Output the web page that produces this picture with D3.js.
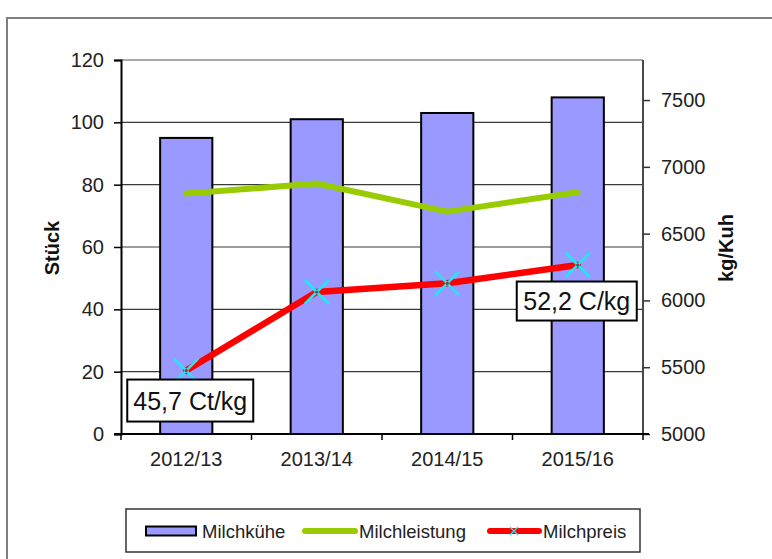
<!DOCTYPE html>
<html>
<head>
<meta charset="utf-8">
<script src="https://cdn.jsdelivr.net/npm/d3@7"></script>
<style>
  html, body { margin: 0; padding: 0; background: #fff; }
  svg { display: block; font-family: "Liberation Sans", Arial, sans-serif; }
</style>
</head>
<body>
<svg id="chart" width="772" height="559"></svg>
<script>
// ---- data ----
const categories = ["2012/13", "2013/14", "2014/15", "2015/16"];
const milchkuehe = [95, 101, 103, 108];            // Stück (left axis)
const milchleistung = [6800, 6875, 6665, 6810];    // kg/Kuh (right axis)
const milchpreis = [5475, 6063, 6128, 6265];       // price line as plotted on right axis
const leftTicks = [0, 20, 40, 60, 80, 100, 120];
const rightTicks = [5000, 5500, 6000, 6500, 7000, 7500];
const priceLabels = ["45,7 Ct/kg", "52,2 C/kg"];
const seriesNames = ["Milchkühe", "Milchleistung", "Milchpreis"];

const svg = d3.select("#chart");
const L = 121, R = 643, T = 60, B = 434;

const x = d3.scaleBand().domain(categories).range([L, R]).padding(0);
const yL = d3.scaleLinear().domain([0, 120]).range([B, T]);
const yR = d3.scaleLinear().domain([5000, 7800]).range([B, T]);
const cx = d => x(d) + x.bandwidth() / 2;

// outer frame
svg.append("rect").attr("x", 7).attr("y", 18).attr("width", 820).attr("height", 620)
  .attr("fill", "none").attr("stroke", "#7f7f7f").attr("stroke-width", 2);

// gridlines
svg.append("g").selectAll("line").data(leftTicks.filter(t => t > 0 && t < 120)).join("line")
  .attr("x1", L).attr("x2", R).attr("y1", d => yL(d)).attr("y2", d => yL(d))
  .attr("stroke", "#3a3a3a").attr("stroke-width", 1.2);
// top border
svg.append("line").attr("x1", L).attr("x2", R).attr("y1", T).attr("y2", T)
  .attr("stroke", "#8c8c8c").attr("stroke-width", 1.5);

// bars
const bw = x.bandwidth() * 0.4;
svg.append("g").selectAll("rect").data(categories).join("rect")
  .attr("x", (d) => cx(d) - bw / 2)
  .attr("y", (d, i) => yL(milchkuehe[i]))
  .attr("width", bw)
  .attr("height", (d, i) => B - yL(milchkuehe[i]))
  .attr("fill", "#9999ff").attr("stroke", "#000").attr("stroke-width", 2);

// left axis
const gL = svg.append("g").attr("transform", `translate(${L},0)`)
  .call(d3.axisLeft(yL).tickValues(leftTicks).tickSize(7).tickPadding(10).tickFormat(d3.format("d")));
gL.select(".domain").attr("stroke", "#000").attr("stroke-width", 2);
gL.selectAll(".tick line").attr("stroke", "#000").attr("stroke-width", 1.5);
gL.selectAll("text").attr("font-size", 20).attr("fill", "#222").attr("font-family", "Liberation Sans, Arial, sans-serif");

// right axis
const gR = svg.append("g").attr("transform", `translate(${R},0)`)
  .call(d3.axisRight(yR).tickValues(rightTicks).tickSize(7).tickPadding(11).tickFormat(d3.format("d")));
gR.select(".domain").attr("stroke", "#4a4a4a").attr("stroke-width", 2).attr("d", `M0,${T}V${B}`);
gR.selectAll(".tick line").attr("stroke", "#333").attr("stroke-width", 1.5);
gR.selectAll("text").attr("font-size", 20).attr("fill", "#222").attr("font-family", "Liberation Sans, Arial, sans-serif");

// bottom axis
const xTicks = d3.scaleBand().domain(categories).range([L, R]);
const gB = svg.append("g").attr("transform", `translate(0,${B})`)
  .call(d3.axisBottom(x).tickSize(0).tickPadding(18));
gB.select(".domain").attr("stroke", "#000").attr("stroke-width", 2).attr("d", `M${L - 7},0H${R + 6}`);
gB.selectAll("text").attr("font-size", 20).attr("fill", "#222").attr("font-family", "Liberation Sans, Arial, sans-serif");
svg.append("g").selectAll("line").data(categories).join("line")
  .attr("x1", d => xTicks(d)).attr("x2", d => xTicks(d))
  .attr("y1", B).attr("y2", B + 6).attr("stroke", "#000").attr("stroke-width", 1.5);
svg.append("line").attr("x1", R).attr("x2", R).attr("y1", B).attr("y2", B + 6)
  .attr("stroke", "#000").attr("stroke-width", 1.5);

// axis titles
svg.append("text").attr("transform", "translate(59,248) rotate(-90)")
  .attr("text-anchor", "middle").attr("font-size", 20).attr("font-weight", "bold").attr("fill", "#111")
  .text("Stück");
svg.append("text").attr("transform", "translate(733,248) rotate(-90)")
  .attr("text-anchor", "middle").attr("font-size", 20).attr("font-weight", "bold").attr("fill", "#111")
  .text("kg/Kuh");

// lines
const lineR = d3.line().x((d, i) => cx(categories[i])).y(d => yR(d));
svg.append("path").datum(milchleistung).attr("d", lineR)
  .attr("fill", "none").attr("stroke", "#99cc00").attr("stroke-width", 6)
  .attr("stroke-linecap", "round").attr("stroke-linejoin", "round");
svg.append("path").datum(milchpreis).attr("d", lineR)
  .attr("fill", "none").attr("stroke", "#ff0000").attr("stroke-width", 6.5)
  .attr("stroke-linecap", "round").attr("stroke-linejoin", "round");

// X markers
const ms = 12;
const mk = svg.append("g").selectAll("g").data(milchpreis).join("g")
  .attr("transform", (d, i) => `translate(${cx(categories[i])},${yR(d)})`);
mk.append("path").attr("d", `M${-ms},${-ms}L${ms},${ms}M${-ms},${ms}L${ms},${-ms}`)
  .attr("stroke", "#1ee8f0").attr("stroke-width", 2.6).attr("fill", "none");
mk.append("circle").attr("r", 1.6).attr("fill", "#555");

// price labels
function labelBox(text, px, py, w, h) {
  const g = svg.append("g").attr("transform", `translate(${px},${py})`);
  g.append("rect").attr("x", -w / 2).attr("y", -h / 2).attr("width", w).attr("height", h)
    .attr("fill", "#fff").attr("stroke", "#000").attr("stroke-width", 2);
  g.append("text").attr("text-anchor", "middle").attr("dy", "0.36em")
    .attr("font-size", 25).attr("fill", "#111").text(text);
}
labelBox(priceLabels[0], cx(categories[0]) + 4, yR(milchpreis[0]) + 30, 126, 42);
labelBox(priceLabels[1], cx(categories[3]) - 1, yR(milchpreis[3]) + 36, 120, 39);

// legend
const lg = svg.append("g");
lg.append("rect").attr("x", 126).attr("y", 509).attr("width", 514).attr("height", 43)
  .attr("fill", "#fff").attr("stroke", "#333").attr("stroke-width", 1.5);
const ly = 531;
lg.append("rect").attr("x", 146).attr("y", ly - 4.5).attr("width", 50).attr("height", 9)
  .attr("fill", "#9999ff").attr("stroke", "#000").attr("stroke-width", 2);
lg.append("line").attr("x1", 305).attr("x2", 355).attr("y1", ly).attr("y2", ly)
  .attr("stroke", "#99cc00").attr("stroke-width", 6).attr("stroke-linecap", "round");
lg.append("line").attr("x1", 490).attr("x2", 539).attr("y1", ly).attr("y2", ly)
  .attr("stroke", "#ff0000").attr("stroke-width", 6).attr("stroke-linecap", "round");
lg.append("path").attr("d", `M${514 - 4},${ly - 4}L${514 + 4},${ly + 4}M${514 - 4},${ly + 4}L${514 + 4},${ly - 4}`)
  .attr("stroke", "#1ee8f0").attr("stroke-width", 1.2);
const lx = [202, 359, 543];
lg.selectAll("text.lt").data(seriesNames).join("text").attr("class", "lt")
  .attr("x", (d, i) => lx[i]).attr("y", ly).attr("dy", "0.36em")
  .attr("font-size", 18.5).attr("fill", "#222").text(d => d);
</script>
</body>
</html>
